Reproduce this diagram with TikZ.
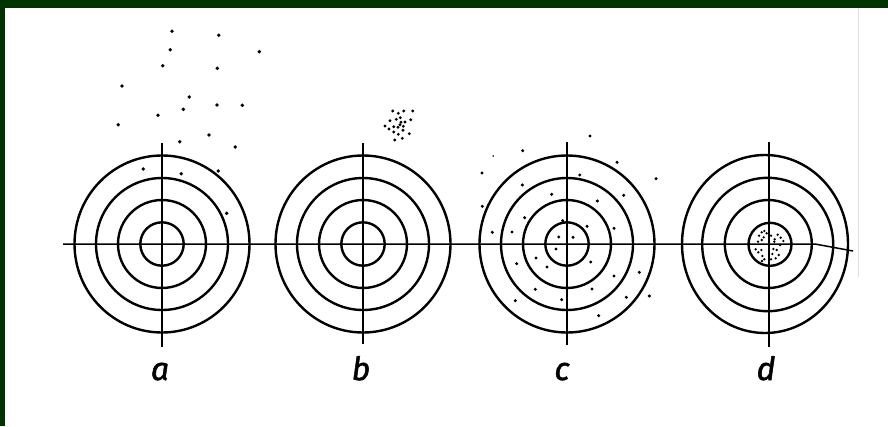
\documentclass[tikz,border=0pt]{standalone}
\usepackage{fontspec}
\newfontfamily\labfont[FakeBold=1.6]{Fira Sans}
\definecolor{frame}{RGB}{0,51,0}
\begin{document}
\begin{tikzpicture}[x=1pt,y=-1pt,
  ring/.style={line width=2.4pt,black},
  axis/.style={line width=1.5pt,black},
  lab/.style={font=\labfont\itshape\fontsize{32}{32}\selectfont,anchor=base,inner sep=0pt}]
\useasboundingbox (0,0) rectangle (888,426);
\fill[white] (0,0) rectangle (888,426);
\fill[frame] (0,0) rectangle (888,8);
\fill[frame] (0,0) rectangle (5,426);
\draw[black!12,line width=1pt] (858,8) -- (858,277);
% centres
\coordinate (ca) at (162,244);
\coordinate (cb) at (363,244);
\coordinate (cc) at (567,244);
\coordinate (cd) at (769,244);
\coordinate (hl) at (63,244);
\coordinate (hm) at (815,244);
\coordinate (hr) at (853,251);
% horizontal axis
\draw[axis] (hl) -- (hm) -- (hr);
% vertical axes
\draw[axis] (162,143) -- (162,347);
\draw[axis] (363,143) -- (363,344);
\draw[axis] (567,142) -- (567,345);
\draw[axis] (769,142) -- (769,347);
% targets a, b, c
\foreach \c in {ca,cb,cc}{
  \draw[ring] (\c) circle[x radius=87.5,y radius=88.5];
  \draw[ring] (\c) circle[radius=66];
  \draw[ring] (\c) circle[radius=44];
  \draw[ring] (\c) circle[radius=21.7];
}
% target d (slightly irregular)
\draw[ring] (765,244) ellipse[x radius=83,y radius=89];
\draw[ring] (767.7,244.5) ellipse[x radius=65.5,y radius=66.7];
\draw[ring] (768.3,244) ellipse[x radius=43.5,y radius=44];
\draw[ring] (770,244.3) circle[radius=21.5];
% dots a
\foreach \x/\y in {172/31.3,218.7/35.3,170.3/49.7,259.3/51.7,162.7/65.7,217.3/68.3,122/86,189.3/97,183.3/109.3,217/105,242.3/105.3,158/115.3,118.3/124.7,209/135,179.7/141.7,235.3/147,143.3/169,181.3/173.7,218.3/171,226.7/213.3}
  \fill (\x,\y) circle[radius=1.9];
% dots b
\foreach \x/\y in {392.7/111,398.3/113.3,403.7/111,412.7/111,390/120.7,396.3/119.3,400.3/117.7,401/122.3,400/124.7,405/122,410.7/119.7,385/126,389/129,393.7/126.7,398/127.3,403.3/126.3,403/130.3,398.3/134.3,393.7/132,409.3/133.7,394.7/140,402.3/138.3}
  \fill (\x,\y) circle[radius=1.6];
% dots c
\foreach \x/\y in {590/136,522.7/150.7,617/162.3,482/173,579.7/175,656/178.7,522.3/185,551.7/194.3,623.7/195.3,597.3/201,482.3/206.3,524.7/217.7,562.7/220.7,587/226.3,614/228.3,492.3/232.3,512/232,558.7/237,573/237.3,556/249,536/258,590.7/262,516.7/263.7,547/267,614/276,639.3/272.3,535.3/289.3,592/289,649.3/296,626.3/297.3,515.3/300.7,561.7/299.7,598.7/315.7}
  \fill (\x,\y) circle[radius=1.7];
\fill (493.3,156) circle[radius=0.9];
% dots d
\foreach \x/\y in {761.7/232.3,764.3/231,759/235.7,763.7/237.3,771/235.7,777.7/234.7,758/241.7,761.7/240,774.7/239.3,780.7/237.7,783.3/241,774.3/241.7,755.7/249.3,758.3/252.3,761.3/250,762.3/256,764.3/259.3,762/261,773.3/249,776.7/250,772.3/254,778.7/255,771/259.3,775.7/258.3,766.7/233.3,780/245}
  \fill (\x,\y) circle[radius=1.3];
% labels
\node[lab] (la) at (160,380) {a};
\node[lab] (lb) at (361,380) {b};
\node[lab] (lc) at (562,380) {c};
\node[lab] (ld) at (766,380) {d};
\end{tikzpicture}
\end{document}
